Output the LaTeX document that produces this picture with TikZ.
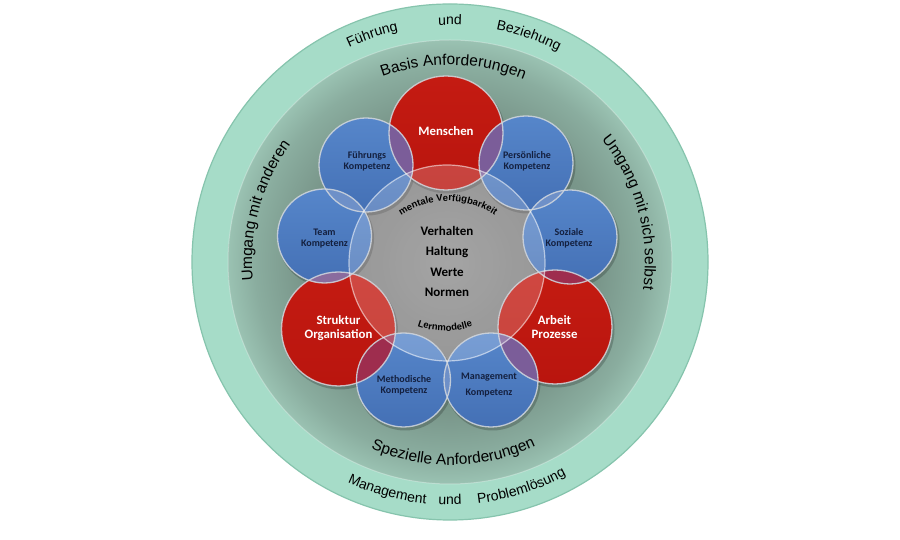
\documentclass[tikz,border=0pt]{standalone}
\usepackage{fontspec}
\setmainfont{Carlito}
\newfontfamily\ringfont{Liberation Sans}
\usetikzlibrary{decorations.text}
\definecolor{band}{HTML}{A6DCC8}
\definecolor{bandline}{HTML}{86C4AD}
\definecolor{ringA}{HTML}{6E8B80}
\definecolor{ringB}{HTML}{7A978B}
\definecolor{ringC}{HTML}{8AAD9F}
\definecolor{ringD}{HTML}{9AC2B2}
\definecolor{grayA}{HTML}{8E8E8E}
\definecolor{grayB}{HTML}{7E7E7E}
\definecolor{blueT}{HTML}{5686CA}
\definecolor{blueB}{HTML}{4470B5}
\definecolor{redT}{HTML}{C41B12}
\definecolor{redB}{HTML}{B9150E}
\definecolor{navy}{HTML}{14203F}
\definecolor{rim}{HTML}{D3D8DE}
\definecolor{ovBRa}{HTML}{7B5D99}
\definecolor{ovBRb}{HTML}{8A6C9E}
\definecolor{ovRB}{HTML}{9E2D4E}
\definecolor{ovBB}{HTML}{6E90C8}
\pgfdeclareradialshading{ringshade}{\pgfpoint{0bp}{0bp}}{color(0bp)=(ringA); color(11bp)=(ringA); color(17bp)=(ringB); color(22bp)=(ringC); color(25bp)=(ringD); color(50bp)=(ringD)}
\pgfdeclareradialshading{grayshade}{\pgfpoint{0bp}{0bp}}{color(0bp)=(grayA); color(25bp)=(grayB); color(50bp)=(grayB)}
\newcommand\ringtxt{\ringfont\fontsize{15.5}{18}\selectfont}
\newcommand\bandtxt{\ringfont\fontsize{14}{16}\selectfont}
\newcommand\innertxt{\ringfont\bfseries\fontsize{9.5}{11}\selectfont}
\newcommand\ovl[5]{\begin{scope}\clip (#1) circle[radius=#2];\fill[#5] (#3) circle[radius=#4];\end{scope}}
\tikzset{
  arctext/.style={decorate, decoration={text along path, text align=center, text={#1}}},
  bluepetal/.style={circle, minimum size=94pt, inner sep=0pt, top color=blueT, bottom color=blueB},
  redpetal/.style={circle, minimum size=114pt, inner sep=0pt, top color=redT, bottom color=redB},
  bluelabel/.style={font=\fontsize{10}{11.5}\selectfont\bfseries, text=navy, align=center, inner sep=0pt},
  redlabel/.style={font=\fontsize{12.8}{14.3}\selectfont\bfseries, text=white, align=center, inner sep=0pt},
  corelabel/.style={font=\fontsize{13}{20.3}\selectfont\bfseries, text=black, align=center, inner sep=0pt},
  rimline/.style={draw=rim, line width=1.3pt, draw opacity=.85},
  shadowfill/.style={fill=black, fill opacity=.2},
}
\begin{document}
\begin{tikzpicture}[x=1pt,y=1pt]
\fill[white] (0,0) rectangle (900,540);
\useasboundingbox (0,0) rectangle (900,540);
\coordinate (C) at (450,278);
\coordinate (G) at (447,277);
% rings
\node[circle, minimum size=516pt, inner sep=0pt, fill=band, draw=bandline, line width=1.2pt] (outer) at (C) {};
\shade[shading=ringshade] (C) circle[radius=222];
\draw[white, draw opacity=.3, line width=1pt] (C) circle[radius=222];
\node[circle, minimum size=444pt, inner sep=0pt] (ring) at (C) {};
\shade[shading=grayshade] (G) circle[radius=98];
\node[circle, minimum size=196pt, inner sep=0pt] (core) at (G) {};
% petal centres
\coordinate (pMen) at (446,407);
\coordinate (pFue) at (366,375);
\coordinate (pPer) at (526,377);
\coordinate (pTea) at (324.5,304);
\coordinate (pSoz) at (570,303);
\coordinate (pStr) at (338.5,211);
\coordinate (pArb) at (555,213);
\coordinate (pMet) at (403.5,160);
\coordinate (pMan) at (491,160);
% shadows
\foreach \p/\r in {pMen/58,pStr/58,pArb/58,pFue/48,pPer/48,pTea/48,pSoz/48,pMet/48,pMan/48}
  \fill[shadowfill] ([shift={(1.5,-2.5)}]\p) circle[radius=\r];
% petals
\node[redpetal] (Men) at (pMen) {};
\node[redpetal] (Str) at (pStr) {};
\node[redpetal] (Arb) at (pArb) {};
\node[bluepetal] (Fue) at (pFue) {};
\node[bluepetal] (Per) at (pPer) {};
\node[bluepetal] (Tea) at (pTea) {};
\node[bluepetal] (Soz) at (pSoz) {};
\node[bluepetal] (Met) at (pMet) {};
\node[bluepetal] (Man) at (pMan) {};
% overlaps
\ovl{pMen}{57}{pFue}{47}{ovBRa}
\ovl{pMen}{57}{pPer}{47}{ovBRa}
\ovl{pStr}{57}{pTea}{47}{ovBRb}
\ovl{pStr}{57}{pMet}{47}{ovRB}
\ovl{pArb}{57}{pSoz}{47}{ovRB}
\ovl{pArb}{57}{pMan}{47}{ovBRa}
\ovl{pFue}{47}{pTea}{47}{ovBB}
\ovl{pPer}{47}{pSoz}{47}{ovBB}
\ovl{pMet}{47}{pMan}{47}{ovBB}
% translucent core overlay
\fill[white, fill opacity=.2] (G) circle[radius=98];
% rims
\foreach \p/\r in {pMen/57,pStr/57,pArb/57,pFue/47,pPer/47,pTea/47,pSoz/47,pMet/47,pMan/47}
  \draw[rimline] (\p) circle[radius=\r];
\draw[white, draw opacity=.55, line width=1.2pt] (G) circle[radius=98];
% petal labels
\node[redlabel] (tMen) at (446,409) {Menschen};
\node[bluelabel] (tFue) at (367,378.5) {Führungs\\Kompetenz};
\node[bluelabel] (tPer) at (527,378.5) {Persönliche\\Kompetenz};
\node[bluelabel] (tTea) at (324.5,301.5) {Team\\Kompetenz};
\node[bluelabel] (tSoz) at (569,301.5) {Soziale\\Kompetenz};
\node[redlabel] (tStr) at (338.5,212) {Struktur\\Organisation};
\node[redlabel] (tArb) at (554.5,213) {Arbeit\\Prozesse};
\node[bluelabel] (tMet) at (404,154.5) {Methodische\\Kompetenz};
\node[bluelabel] (tMan) at (489,155.3) {Management\\[4.5pt]Kompetenz};
\node[corelabel] (tCore) at (447,278.5) {Verhalten\\Haltung\\Werte\\Normen};
% inner arc texts
\path[arctext={|\innertxt|mentale Verfügbarkeit}] (448,257) ++(130:82) arc[start angle=130, end angle=50, radius=82];
\path[arctext={|\innertxt|Lernmodelle}] (445,289) ++(235:80) arc[start angle=235, end angle=305, radius=80];
% ring 2 texts
\path[arctext={|\ringtxt|Basis Anforderungen}] (C) ++(150:197) arc[start angle=150, end angle=28, radius=197];
\path[arctext={|\ringtxt|Spezielle Anforderungen}] (C) ++(211:203) arc[start angle=211, end angle=331, radius=203];
\path[arctext={|\ringtxt|Umgang mit anderen}] (C) ++(204.5:198) arc[start angle=204.5, end angle=124.5, radius=198];
\path[arctext={|\ringtxt|Umgang mit sich selbst}] (C) ++(55.5:195) arc[start angle=55.5, end angle=-24.5, radius=195];
% outer band texts
\path[arctext={|\bandtxt|Führung}] (C) ++(123.9:237) arc[start angle=123.9, end angle=93.9, radius=237];
\path[arctext={|\bandtxt|und}] (C) ++(100:237) arc[start angle=100, end angle=80, radius=237];
\path[arctext={|\bandtxt|Beziehung}] (C) ++(85.8:237) arc[start angle=85.8, end angle=55.8, radius=237];
\path[arctext={|\bandtxt|Management}] (C) ++(239.7:243) arc[start angle=239.7, end angle=269.7, radius=243];
\path[arctext={|\bandtxt|und}] (C) ++(260:243) arc[start angle=260, end angle=280, radius=243];
\path[arctext={|\bandtxt|Problemlösung}] (C) ++(272.6:243) arc[start angle=272.6, end angle=302.6, radius=243];
\end{tikzpicture}
\end{document}
